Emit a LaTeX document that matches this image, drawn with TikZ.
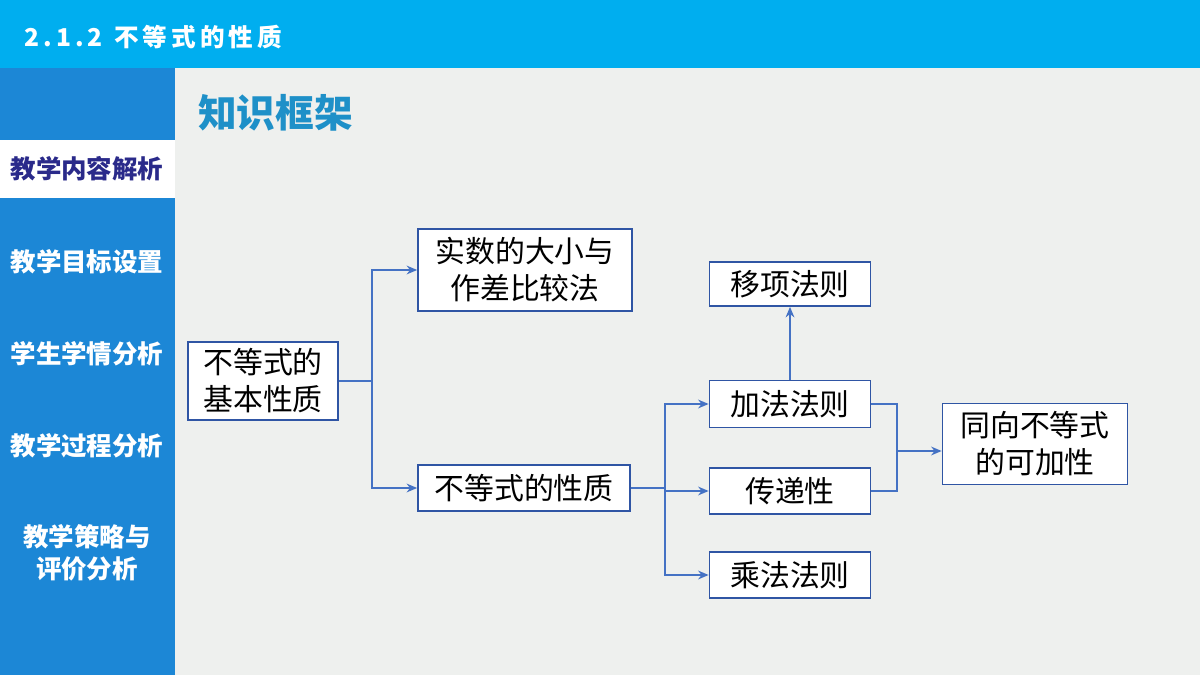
\documentclass[tikz,border=0pt]{standalone}
\usepackage{fontspec}
\setmainfont{Noto Sans CJK SC}
\usetikzlibrary{arrows.meta}
\definecolor{topbar}{HTML}{00AEEF}
\definecolor{sidec}{HTML}{1C87D6}
\definecolor{bg}{HTML}{EEF0EE}
\definecolor{navy}{HTML}{2A2A8A}
\definecolor{ttl}{HTML}{1E90C8}
\definecolor{bx}{HTML}{2F55A4}
\definecolor{ln}{HTML}{4472C4}
\begin{document}
\begin{tikzpicture}[x=0.02cm,y=-0.02cm,
 box/.style={draw=bx,line width=1pt,fill=white,align=center,font=\fontsize{17}{21}\selectfont,inner sep=0pt},
 sidet/.style={text=white,font=\fontsize{14.5}{18}\selectfont\bfseries,align=center},
 con/.style={draw=ln,line width=0.8pt},
 arr/.style={con,-{Stealth[length=6pt,width=5pt]}}]
\useasboundingbox (0,0) rectangle (1200,675);
\fill[bg] (0,0) rectangle (1200,675);
\fill[topbar] (0,0) rectangle (1200,68);
\node[anchor=west,text=white,font=\fontsize{14}{18}\selectfont\bfseries] (t) at (18,37) {2\,.\,1\,.\,2\ \ 不\,等\,式\,的\,性\,质};
\fill[sidec] (0,68) rectangle (175,675);
\fill[white] (0,140) rectangle (175,198);
\node[sidet,text=navy] (s1) at (87,169) {教学内容解析};
\node[sidet] (s2) at (87,262) {教学目标设置};
\node[sidet] (s3) at (87,354) {学生学情分析};
\node[sidet] (s4) at (87,446) {教学过程分析};
\node[sidet] (s5) at (87,553) {教学策略与\\评价分析};
\node[anchor=west,text=ttl,font=\fontsize{22}{26}\selectfont\bfseries] (k) at (192,113) {知识框架};
\node[box,minimum width=3cm,minimum height=1.56cm] (A) at (263,381) {不等式的\\基本性质};
\node[box,minimum width=4.28cm,minimum height=1.64cm] (B) at (525,270) {实数的大小与\\作差比较法};
\node[box,minimum width=4.24cm,minimum height=0.92cm] (C) at (524,488) {不等式的性质};
\node[box,minimum width=3.22cm,minimum height=0.88cm] (D) at (790,284) {移项法则};
\node[box,minimum width=3.22cm,minimum height=0.94cm] (E) at (790,404) {加法法则};
\node[box,minimum width=3.22cm,minimum height=0.92cm] (F) at (790,491) {传递性};
\node[box,minimum width=3.22cm,minimum height=0.92cm] (G) at (790,575) {乘法法则};
\node[box,minimum width=3.7cm,minimum height=1.62cm] (H) at (1035,444) {同向不等式\\的可加性};
\coordinate (j1) at (372,381);
\draw[con] (A.east) -- (j1);
\draw[arr] (j1) |- (B.west);
\draw[arr] (j1) |- (C.west);
\coordinate (j2) at (665,488);
\draw[con] (C.east) -- (j2);
\draw[arr] (j2) |- (E.west);
\draw[arr] (j2) |- (F.west);
\draw[arr] (j2) |- (G.west);
\draw[arr] (E.north) -- (D.south);
\coordinate (j3) at (897,451);
\draw[con] (E.east) -| (j3);
\draw[con] (F.east) -| (j3);
\draw[arr] (j3) -- (j3-|H.west);
\end{tikzpicture}
\end{document}
